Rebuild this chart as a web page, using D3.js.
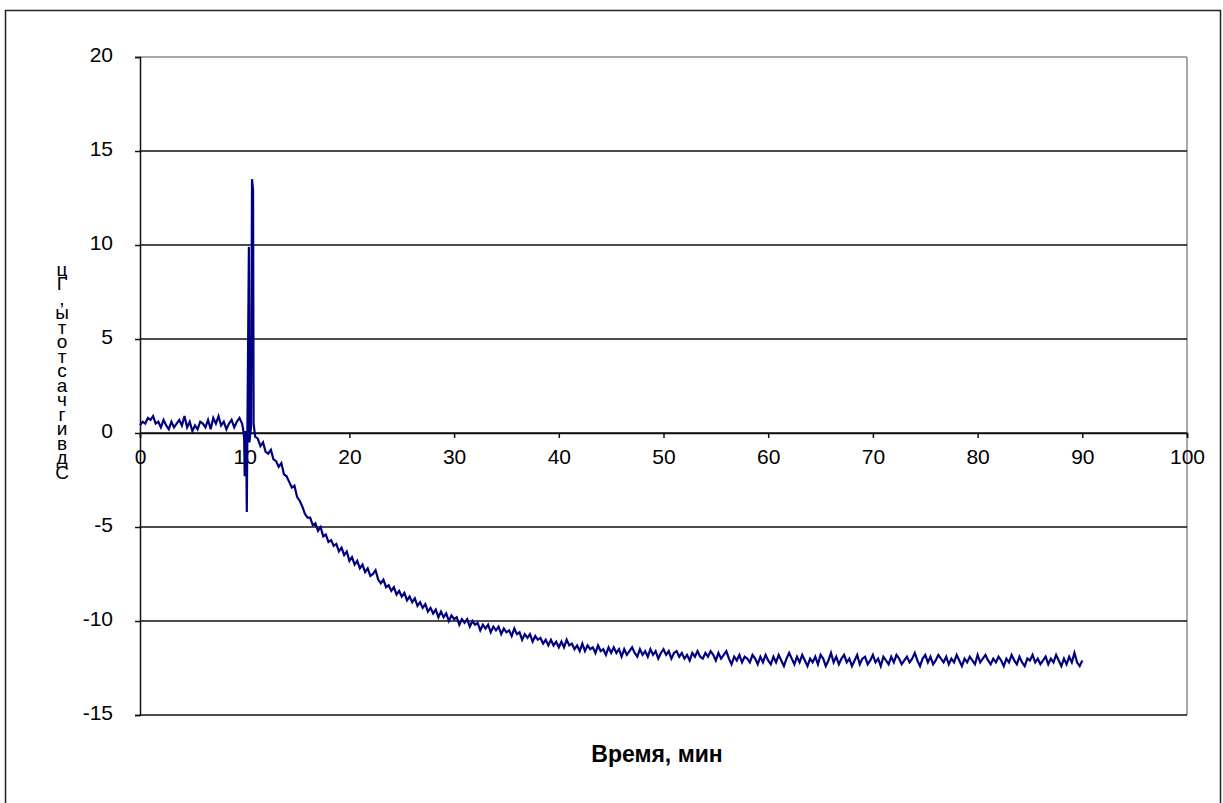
<!DOCTYPE html>
<html>
<head>
<meta charset="utf-8">
<script src="https://cdn.jsdelivr.net/npm/d3@7"></script>
<style>
  body { margin: 0; background: #fff; }
  svg { font-family: "Liberation Sans", Arial, sans-serif; }
</style>
</head>
<body>
<div id="d3"></div>
<script>
// values (time in minutes, frequency shift in Hz)
var xTicks = [0, 10, 20, 30, 40, 50, 60, 70, 80, 90, 100];
var yTicks = [-15, -10, -5, 0, 5, 10, 15, 20];

// before the spike, one reading per 0.25 min from 0 to 9.75
var preSpike = [
  0.4, 0.6, 0.5, 0.8, 0.7, 0.9, 0.5, 0.6, 0.3, 0.7,
  0.4, 0.2, 0.6, 0.3, 0.5, 0.7, 0.4, 0.9, 0.3, 0.6,
  0.1, 0.4, 0.2, 0.6, 0.5, 0.3, 0.7, 0.2, 0.8, 0.5,
  0.9, 0.4, 0.6, 0.2, 0.5, 0.7, 0.3, 0.6, 0.8, 0.5
];

// the spike itself, [time, value]
var spike = [
  [9.85, 0.2], [9.95, -0.3], [10.0, -2.3], [10.05, 0.1], [10.15, -0.6],
  [10.2, -4.2], [10.25, -0.4], [10.4, 9.9], [10.45, -0.5], [10.6, 0.3],
  [10.7, 13.5], [10.8, 12.9], [10.85, 0.5], [11.0, -0.2]
];

// after the spike, one reading per 0.25 min from 11.25 to 90
var postSpike = [
  -0.3, -0.7, -0.5, -1.0,   -1.1, -0.9, -1.4, -1.5,   -1.8, -1.6, -2.2, -2.3,
  -2.6, -2.9, -2.8, -3.4,   -3.6, -3.9, -4.3, -4.5,   -4.5, -4.9, -4.8, -5.2,
  -5.0, -5.5, -5.4, -5.8,   -5.7, -6.0, -5.9, -6.3,   -6.1, -6.5, -6.3, -6.8,
  -6.6, -7.0, -6.8, -7.2,   -7.0, -7.4, -7.2, -7.6,   -7.5, -7.3, -7.8, -8.0,
  -7.8, -8.2, -8.1, -8.4,   -8.2, -8.6, -8.4, -8.7,   -8.5, -8.9, -8.7, -9.0,
  -8.8, -9.2, -9.0, -9.3,   -9.1, -9.5, -9.3, -9.6,   -9.4, -9.8, -9.5, -9.8,
  -9.6, -10.0, -9.7, -9.9,  -9.8, -10.2, -9.9, -10.1, -9.9, -10.3, -10.0, -10.2,
  -10.1, -10.5, -10.2, -10.4, -10.2, -10.6, -10.3, -10.5, -10.3, -10.7, -10.4, -10.6,
  -10.5, -10.8, -10.4, -10.7, -10.6, -11.0, -10.7, -10.9, -10.7, -11.1, -10.8, -11.0,
  -10.9, -11.2, -11.0, -11.3, -11.0, -11.3, -11.1, -11.4, -11.1, -11.4, -11.0, -11.3,
  -11.2, -11.5, -11.3, -11.6, -11.2, -11.6, -11.3, -11.5, -11.4, -11.7, -11.3, -11.6,
  -11.5, -11.8, -11.4, -11.7, -11.4, -11.7, -11.5, -11.9, -11.5, -11.8, -11.6, -11.4,
  -11.7, -11.9, -11.5, -11.8, -11.6, -11.9, -11.5, -11.8, -11.6, -12.0, -11.7, -11.5,
  -11.8, -11.6, -12.0, -11.7, -11.6, -11.9, -11.7, -12.0, -11.8, -12.1, -11.7, -11.9,
  -11.6, -11.9, -12.0, -11.7, -11.9, -11.6, -11.8, -12.1, -11.7, -12.0, -11.8, -11.6,
  -12.0, -12.3, -11.9, -12.1, -11.8, -12.2, -11.9, -12.0, -12.2, -11.8, -12.0, -12.3,
  -11.9, -12.2, -11.8, -12.1, -12.3, -11.9, -12.2, -11.8, -12.1, -12.4, -12.0, -11.7,
  -12.0, -12.3, -11.9, -12.2, -11.8, -12.1, -12.4, -12.0, -12.2, -11.9, -12.3, -11.8,
  -12.0, -12.4, -12.1, -11.7, -12.2, -11.9, -12.3, -12.0, -11.8, -12.2, -12.0, -12.4,
  -12.1, -11.8, -12.3, -12.0, -11.9, -12.3, -12.1, -11.8, -12.2, -12.0, -12.4, -11.9,
  -12.1, -12.3, -11.9, -12.2, -11.8, -12.0, -12.3, -12.1, -11.9, -12.2, -12.0, -11.7,
  -12.1, -12.4, -12.0, -11.8, -12.2, -11.9, -12.3, -12.1, -11.8, -12.0, -12.2, -11.9,
  -12.3, -12.0, -12.2, -11.8, -12.1, -12.4, -12.0, -12.2, -11.9, -12.1, -12.3, -11.8,
  -12.2, -12.0, -11.8, -12.1, -12.3, -12.0, -12.2, -11.9, -12.1, -12.4, -12.0, -12.2,
  -11.8, -12.1, -12.3, -11.9, -12.2, -12.4, -12.0, -12.1, -11.8, -12.2, -12.0, -12.3,
  -12.1, -11.9, -12.3, -12.0, -12.2, -11.8, -12.1, -12.4, -12.0, -12.3, -11.9, -12.2,
  -11.7, -12.2, -12.4, -12.1
];

var W = 1223, H = 803;
var svg = d3.select("#d3").append("svg")
        .attr("width", W)
        .attr("height", H);

// outer chart frame
svg.append("rect")
        .attr("x", 5.5).attr("y", 10.5)
        .attr("width", 1215).attr("height", 800)
        .attr("fill", "none")
        .attr("stroke", "#222")
        .attr("stroke-width", 1.5);

var x = d3.scaleLinear().domain([0, 100]).range([140, 1187]);
var y = d3.scaleLinear().domain([-15, 20]).range([715, 57]);

// plot area right border is grey
svg.append("line")
        .attr("x1", x(100)).attr("x2", x(100))
        .attr("y1", y(20)).attr("y2", y(-15))
        .attr("stroke", "#8c8c8c").attr("stroke-width", 1.5);

// horizontal grid lines
svg.selectAll("line.grid")
        .data(yTicks).enter()
        .append("line")
        .attr("class", "grid")
        .attr("x1", x(0)).attr("x2", x(100))
        .attr("y1", function(d) { return y(d); })
        .attr("y2", function(d) { return y(d); })
        .attr("stroke", function(d) { return d === 20 ? "#8c8c8c" : "#111"; })
        .attr("stroke-width", 1.5);

var plain = function(d) { return String(d); };   // keep ascii hyphen

// y axis
var yAxis = svg.append("g")
        .attr("transform", "translate(" + x(0) + ",0)")
        .call(d3.axisLeft(y).tickValues(yTicks).tickFormat(plain).tickSize(5).tickPadding(22));
yAxis.select(".domain").attr("stroke", "#111").attr("stroke-width", 1.5);
yAxis.selectAll(".tick line").attr("stroke", "#111").attr("stroke-width", 1.5);
yAxis.selectAll("text")
        .attr("font-size", "21px")
        .attr("dy", "0.22em")
        .attr("fill", "#000");

// x axis sits on zero
var xAxis = svg.append("g")
        .attr("transform", "translate(0," + y(0) + ")")
        .call(d3.axisBottom(x).tickValues(xTicks).tickFormat(plain).tickSize(5).tickPadding(11));
xAxis.select(".domain").attr("stroke", "#111").attr("stroke-width", 1.5);
xAxis.selectAll(".tick line").attr("stroke", "#111").attr("stroke-width", 1.5);
xAxis.selectAll("text")
        .attr("font-size", "21px")
        .attr("fill", "#000");

// build the series
var series = [];
preSpike.forEach(function(v, i) { series.push([i * 0.25, v]); });
spike.forEach(function(p) { series.push(p); });
postSpike.forEach(function(v, i) { series.push([11.25 + i * 0.25, v]); });

var line = d3.line()
        .x(function(d) { return x(d[0]); })
        .y(function(d) { return y(d[1]); });

svg.append("path")
        .datum(series)
        .attr("d", line)
        .attr("fill", "none")
        .attr("stroke", "#000080")
        .attr("stroke-width", 2.2)
        .attr("stroke-linejoin", "miter");

// x title
svg.append("text")
        .attr("x", 657).attr("y", 762)
        .attr("text-anchor", "middle")
        .attr("font-size", "23px")
        .attr("font-weight", "bold")
        .text("Время, мин");

// y title: upright letters running bottom to top (vertical, right-to-left inline)
svg.append("text")
        .attr("x", 62).attr("y", 476)
        .attr("text-anchor", "start")
        .attr("font-size", "19px")
        .style("writing-mode", "vertical-rl")
        .style("text-orientation", "upright")
        .style("direction", "rtl")
        .style("unicode-bidi", "bidi-override")
        .style("letter-spacing", "-6.5px")
        .text("Сдвиг частоты, Гц".replace(/ /g, ""));
</script>
</body>
</html>
